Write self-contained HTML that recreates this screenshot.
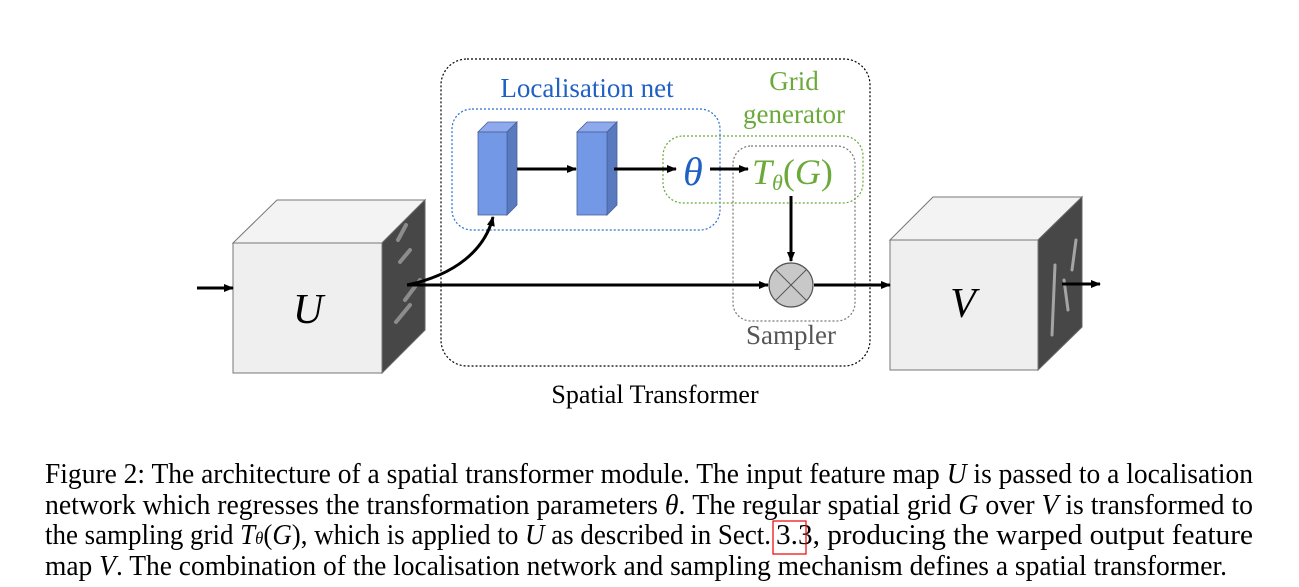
<!DOCTYPE html>
<html><head><meta charset="utf-8"><style>
html,body{margin:0;padding:0;background:#fff;}
svg{display:block}
text{font-family:"Liberation Serif",serif;}
</style></head><body>
<svg width="1299" height="587" viewBox="0 0 1299 587" xmlns="http://www.w3.org/2000/svg">
<defs>
<marker id="ah" markerWidth="10" markerHeight="8" refX="9" refY="4" orient="auto" markerUnits="userSpaceOnUse">
<path d="M0,0 L10,4 L0,8 Z" fill="#000"/></marker>
</defs>
<rect x="441" y="59" width="429" height="307" rx="26" fill="none" stroke="#000" stroke-width="1.2" stroke-dasharray="2,2"/>
<rect x="452" y="109" width="268" height="121" rx="20" fill="none" stroke="#2a6fd0" stroke-width="1.2" stroke-dasharray="2,2"/>
<rect x="663" y="136" width="200" height="67" rx="20" fill="none" stroke="#6aa93a" stroke-width="1.2" stroke-dasharray="2,2"/>
<rect x="733" y="146" width="122" height="175" rx="18" fill="none" stroke="#777" stroke-width="1.2" stroke-dasharray="2,2"/>

<polygon points="233,243 277,200 425,200 382,243" fill="#f3f3f3" stroke="#777" stroke-width="1"/>
<polygon points="382,243 425,200 425,330 382,373" fill="#474747" stroke="#666" stroke-width="1"/>
<rect x="233" y="243" width="149" height="130" fill="#efefef" stroke="#777" stroke-width="1"/>
<g stroke="#bbb" stroke-width="4" opacity="0.6" stroke-linecap="round">
<path d="M398,240 L406,225 M400,262 L410,250 M405,300 L420,280 M396,322 L410,305"/></g>
<text x="308" y="323" font-size="42" font-style="italic" text-anchor="middle">U</text>

<polygon points="890,240 933,197 1082,197 1038,240" fill="#f3f3f3" stroke="#777" stroke-width="1"/>
<polygon points="1038,240 1082,197 1082,327 1038,370" fill="#474747" stroke="#666" stroke-width="1"/>
<rect x="890" y="240" width="148" height="130" fill="#efefef" stroke="#777" stroke-width="1"/>
<g stroke="#ccc" stroke-width="3" opacity="0.7" stroke-linecap="round">
<path d="M1055,265 L1052,335 M1076,240 L1072,270 M1064,280 L1068,310"/></g>
<text x="963" y="317" font-size="42" font-style="italic" text-anchor="middle">V</text>

<g stroke="#4a5f9a" stroke-width="0.8">
<polygon points="478,132 488,122 517,122 507,132" fill="#8eaaec"/>
<polygon points="507,132 517,122 517,205 507,215" fill="#5a7abf"/>
<rect x="478" y="132" width="29" height="83" fill="#7399e6"/>
<polygon points="577,132 587,122 617,122 607,132" fill="#8eaaec"/>
<polygon points="607,132 617,122 617,205 607,215" fill="#5a7abf"/>
<rect x="577" y="132" width="30" height="83" fill="#7399e6"/>
</g>

<g stroke="#000" stroke-width="3" fill="none" marker-end="url(#ah)">
<line x1="197" y1="288" x2="233" y2="288"/>
<line x1="517" y1="169" x2="576" y2="169"/>
<line x1="614" y1="169" x2="676" y2="169"/>
<line x1="710" y1="169" x2="748" y2="169"/>
<line x1="407" y1="285" x2="768" y2="285"/>
<line x1="791" y1="196" x2="791" y2="261"/>
<line x1="814" y1="285" x2="890" y2="285"/>
<line x1="1062" y1="284" x2="1100" y2="284"/>
<path d="M407,285 C455,275 485,250 493,217"/>
</g>
<circle cx="791" cy="285" r="22" fill="#c8c8c8" stroke="#555" stroke-width="1.2"/>
<line x1="775.5" y1="269.5" x2="806.5" y2="300.5" stroke="#555" stroke-width="1"/>
<line x1="806.5" y1="269.5" x2="775.5" y2="300.5" stroke="#555" stroke-width="1"/>

<text x="587" y="97" font-size="27" fill="#1f60c4" text-anchor="middle">Localisation net</text>
<text x="794" y="90" font-size="27" fill="#6aa93a" text-anchor="middle">Grid</text>
<text x="794" y="123" font-size="27" fill="#6aa93a" text-anchor="middle">generator</text>
<text x="693" y="185" font-size="40" font-style="italic" fill="#1f60c4" text-anchor="middle">θ</text>
<text x="752" y="184" font-size="36" fill="#6aa93a" font-style="italic">T<tspan font-size="22" dy="6">θ</tspan><tspan dy="-6" font-style="normal">(</tspan>G<tspan font-style="normal">)</tspan></text>
<text x="791" y="344" font-size="27" fill="#555" text-anchor="middle">Sampler</text>
<text x="655" y="403" font-size="26" fill="#000" text-anchor="middle">Spatial Transformer</text>

<g font-size="29" fill="#000">
<text x="45" y="483" textLength="1208" lengthAdjust="spacingAndGlyphs">Figure 2: The architecture of a spatial transformer module. The input feature map <tspan font-style="italic">U</tspan> is passed to a localisation</text>
<text x="45" y="514" textLength="1208" lengthAdjust="spacingAndGlyphs">network which regresses the transformation parameters <tspan font-style="italic">θ</tspan>. The regular spatial grid <tspan font-style="italic">G</tspan> over <tspan font-style="italic">V</tspan> is transformed to</text>
<text x="45" y="544" textLength="726" lengthAdjust="spacingAndGlyphs">the sampling grid <tspan font-style="italic">T</tspan><tspan font-size="18" font-style="italic">θ</tspan>(<tspan font-style="italic">G</tspan>), which is applied to <tspan font-style="italic">U</tspan> as described in Sect.</text>
<text x="776" y="544" textLength="477" lengthAdjust="spacingAndGlyphs">3.3, producing the warped output feature</text>
<text x="45" y="575" textLength="1182" lengthAdjust="spacingAndGlyphs">map <tspan font-style="italic">V</tspan>. The combination of the localisation network and sampling mechanism defines a spatial transformer.</text>
</g>
<rect x="773" y="521" width="33" height="33" fill="none" stroke="#e00" stroke-width="1.2"/>
</svg>
</body></html>
